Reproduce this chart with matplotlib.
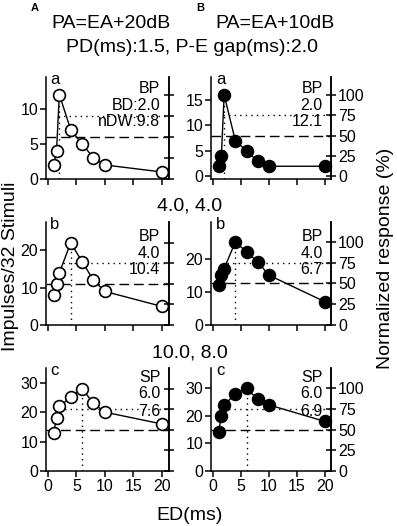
import matplotlib
matplotlib.use('Agg')
import matplotlib.pyplot as plt
import numpy as np

plt.rcParams['font.family'] = ['Liberation Sans', 'DejaVu Sans']

# ED (ms) values used in every panel
ed = [1, 1.5, 2, 4, 6, 8, 10, 20]

# impulses / 32 stimuli, column A (PA=EA+20dB) and column B (PA=EA+10dB)
a_A = [2, 4, 12, 7, 5, 3, 2, 1]
a_B = [2, 4, 16, 7, 5, 3, 2, 2]
b_A = [8, 11, 14, 22, 17, 12, 9, 5]
b_B = [12, 15, 17, 25, 22, 19, 15, 7]
c_A = [13, 18, 22, 25, 28, 23, 20, 16]
c_B = [14, 20, 24, 28, 30, 26, 24, 18]

tags = ['BP', 'BP', 'SP']
bd_A = ['BD:2.0', '4.0', '6.0']
dw_A = ['nDW:9.8', '10.4', '7.6']
bd_B = ['2.0', '4.0', '6.0']
dw_B = ['12.1', '6.7', '6.9']
row_letters = ['a', 'b', 'c']
mid_labels = ['4.0, 4.0', '10.0, 8.0']

yticks_A = [[0, 5, 10], [0, 10, 20], [0, 10, 20, 30]]
yticks_B = [[0, 5, 10, 15], [0, 10, 20], [0, 10, 20, 30]]
ylims_A = [(0, 14.5), (0, 27.6), (0, 35)]
ylims_B = [(-0.5, 19.5), (0, 31), (0, 37.4)]
pct_ticks = [0, 25, 50, 75, 100]

W, H = 397, 526
fig = plt.figure(figsize=(W / 100, H / 100), dpi=100)

col_x = [46, 211]
col_w = [123, 120]
row_top = [77, 222, 368]
row_h = [102, 103, 103]
text_y = [(0.89, 0.72, 0.56), (0.86, 0.69, 0.54), (0.91, 0.75, 0.58)]
letter_dx = [0.07, 0.08]

data = [[a_A, a_B], [b_A, b_B], [c_A, c_B]]
xlims = [(-0.35, 21.3), (-0.35, 21.1)]

dash = (0, (7, 3.5))
dot = (0, (1, 3))

for r in range(3):
    for c in range(2):
        y = np.array(data[r][c], dtype=float)
        ax = fig.add_axes([col_x[c] / W, 1 - (row_top[r] + row_h[r]) / H,
                           col_w[c] / W, row_h[r] / H])
        ylim = ylims_A[r] if c == 0 else ylims_B[r]
        ax.set_xlim(*xlims[c])
        ax.set_ylim(*ylim)
        ipk = int(np.argmax(y))
        peak = y[ipk]
        xpk = ed[ipk]

        ax.axhline(0.5 * peak, ls=dash, color='k', lw=1.0, zorder=2)
        x75 = np.interp(0.75 * peak, y[:ipk + 1], ed[:ipk + 1])
        ax.plot([x75, xlims[c][1]], [0.75 * peak] * 2, ls=dot, color='k', lw=1.0, zorder=2)
        ax.plot([xpk, xpk], [ylim[0], peak], ls=dot, color='k', lw=1.0, zorder=2)

        face = 'white' if c == 0 else 'black'
        ax.plot(ed, y, '-o', color='k', lw=1.0, ms=8.5, mfc=face, mec='k', mew=1.2,
                zorder=5, clip_on=False)

        ax.set_xticks([0, 5, 10, 15, 20])
        ax.set_yticks(yticks_A[r] if c == 0 else yticks_B[r])
        if r < 2:
            ax.set_xticklabels([])
        ax.tick_params(direction='out', length=4, width=1.1, labelsize=11.5, pad=1.5)
        ax.spines['top'].set_visible(False)
        for s in ['left', 'bottom', 'right']:
            ax.spines[s].set_linewidth(1.1)

        tw = ax.twinx()
        tw.set_ylim(ylim[0] / peak * 100, ylim[1] / peak * 100)
        tw.set_yticks(pct_ticks)
        tw.tick_params(direction='inout', length=7, width=1.1, labelsize=11.5, pad=1.5)
        if c == 0:
            tw.set_yticklabels([])
        for s in ['top', 'left', 'bottom']:
            tw.spines[s].set_visible(False)
        tw.spines['right'].set_linewidth(1.1)

        ty = text_y[r]
        ax.text(0.93, ty[0], tags[r], transform=ax.transAxes, ha='right', va='center', fontsize=11.5)
        ax.text(0.93, ty[1], (bd_A if c == 0 else bd_B)[r], transform=ax.transAxes,
                ha='right', va='center', fontsize=11.5)
        ax.text(0.93, ty[2], (dw_A if c == 0 else dw_B)[r], transform=ax.transAxes,
                ha='right', va='center', fontsize=11.5)
        ax.text(letter_dx[c], 0.975, row_letters[r], transform=ax.transAxes,
                ha='center', va='center', fontsize=12)

fig.text(35 / W, 1 - 8 / H, 'A', weight='bold', fontsize=8, ha='center', va='center')
fig.text(200 / W, 1 - 8 / H, 'B', weight='bold', fontsize=8, ha='center', va='center')
fig.text(111 / W, 1 - 23 / H, 'PA=EA+20dB', fontsize=14, ha='center', va='center')
fig.text(275 / W, 1 - 23 / H, 'PA=EA+10dB', fontsize=14, ha='center', va='center')
fig.text(192 / W, 1 - 48 / H, 'PD(ms):1.5, P-E gap(ms):2.0', fontsize=14, ha='center', va='center')
fig.text(190 / W, 1 - 206 / H, mid_labels[0], fontsize=14, ha='center', va='center')
fig.text(190 / W, 1 - 353 / H, mid_labels[1], fontsize=14, ha='center', va='center')
fig.text(190 / W, 1 - 515 / H, 'ED(ms)', fontsize=14, ha='center', va='center')
fig.text(11 / W, 1 - 266 / H, 'Impulses/32 Stimuli', fontsize=14, rotation=90,
         ha='center', va='center')
fig.text(386 / W, 1 - 258 / H, 'Normalized response (%)', fontsize=14, rotation=90,
         ha='center', va='center')

fig.savefig('out.png', dpi=100)
